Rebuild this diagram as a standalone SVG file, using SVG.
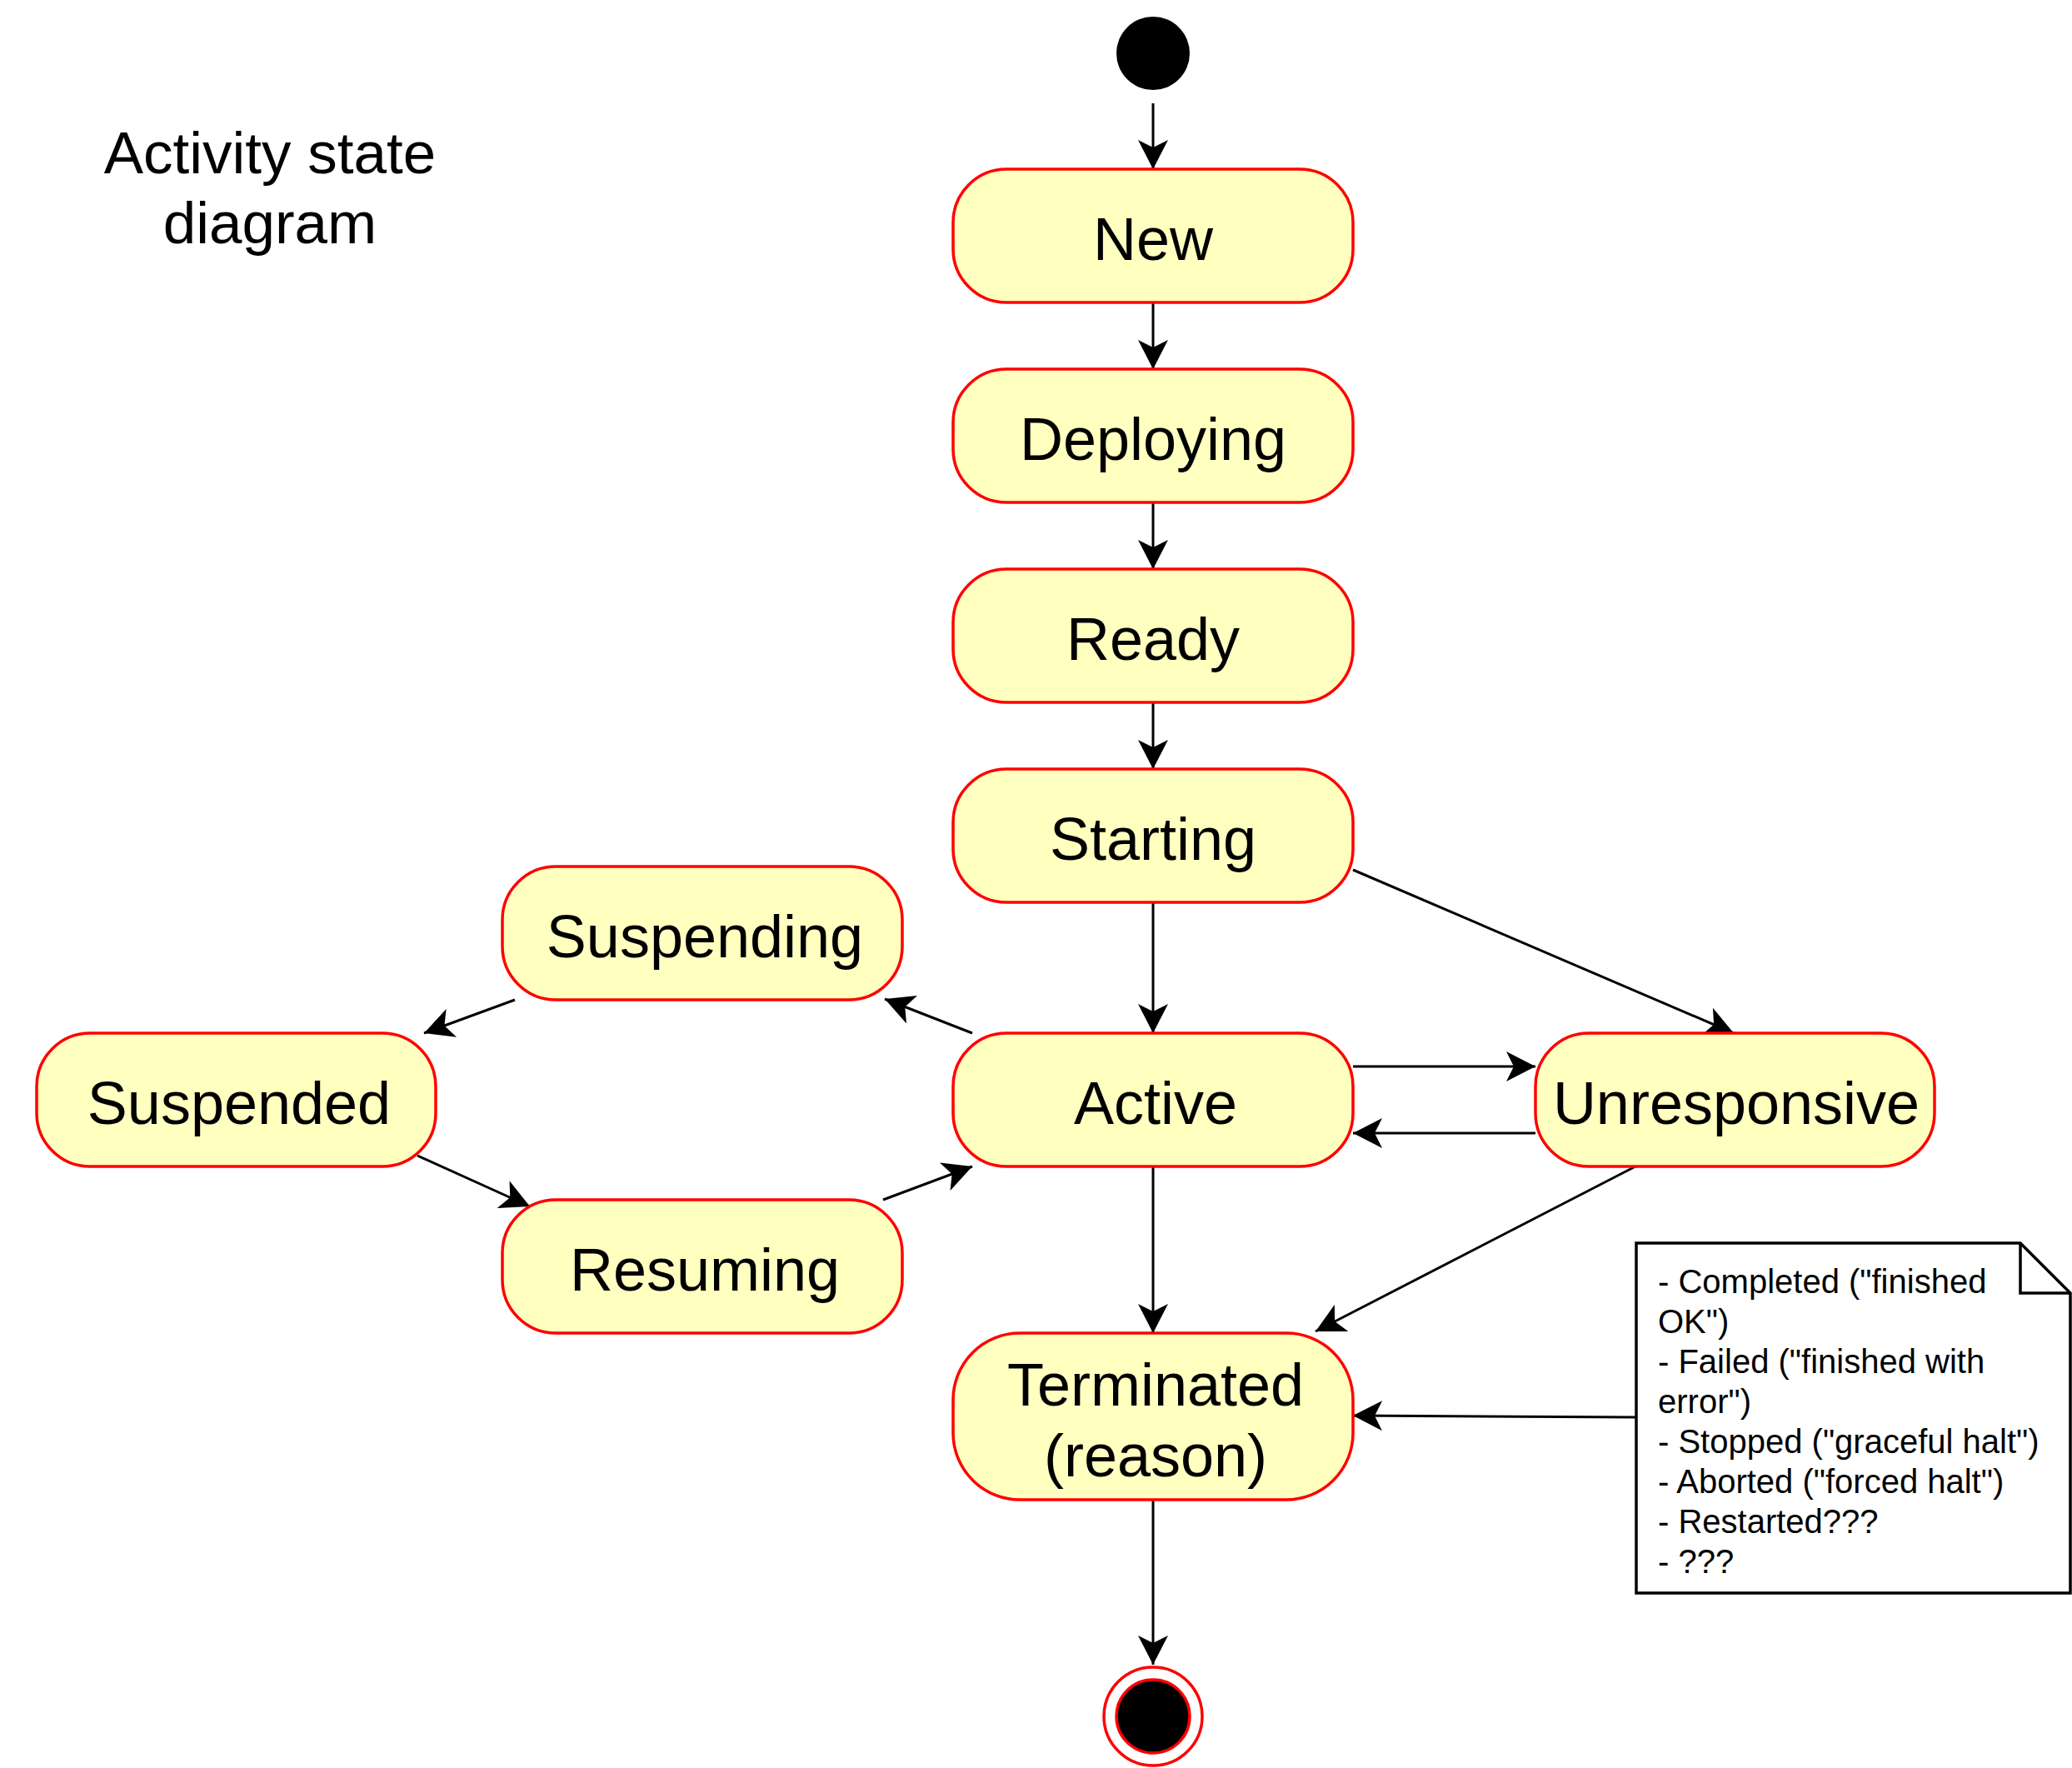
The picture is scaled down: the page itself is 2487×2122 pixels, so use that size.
<svg xmlns="http://www.w3.org/2000/svg" width="2487" height="2122" viewBox="0 0 2487 2122">
<style>
.st{fill:#FFFFC0;stroke:#FF0000;stroke-width:3.5}
.lbl{font-family:"Liberation Sans",Arial,Helvetica,sans-serif;font-size:72px;fill:#000;text-anchor:middle}
.edge{stroke:#000;stroke-width:3;fill:none;marker-end:url(#arr)}
.note{fill:#FFFFFF;stroke:#000;stroke-width:3.5}
.ntxt{font-family:"Liberation Sans",Arial,Helvetica,sans-serif;font-size:40px;fill:#000}
.title{font-family:"Liberation Sans",Arial,Helvetica,sans-serif;font-size:71px;fill:#000;text-anchor:middle}
</style>
<defs>
<marker id="arr" markerUnits="userSpaceOnUse" viewBox="0 0 36 36" markerWidth="36" markerHeight="36" refX="35" refY="18" orient="auto">
<path d="M35,18 L0,0 L9,18 L0,36 Z" fill="#000"/>
</marker>
</defs>
<rect width="2487" height="2122" fill="#FFFFFF"/>
<g id="title"><text class="title" x="324" y="208">Activity state</text><text class="title" x="324" y="292">diagram</text></g>
<g id="edges">
<line class="edge" x1="1384" y1="124" x2="1384" y2="203"/>
<line class="edge" x1="1384" y1="363" x2="1384" y2="443"/>
<line class="edge" x1="1384" y1="603" x2="1384" y2="683"/>
<line class="edge" x1="1384" y1="843" x2="1384" y2="923"/>
<line class="edge" x1="1384" y1="1083" x2="1384" y2="1240"/>
<line class="edge" x1="1624" y1="1044" x2="2081" y2="1240"/>
<line class="edge" x1="1624" y1="1280" x2="1843" y2="1280"/>
<line class="edge" x1="1843" y1="1360" x2="1624" y2="1360"/>
<line class="edge" x1="1384" y1="1400" x2="1384" y2="1600"/>
<line class="edge" x1="1963" y1="1400" x2="1579" y2="1598"/>
<line class="edge" x1="1963" y1="1701" x2="1624" y2="1699"/>
<line class="edge" x1="1167" y1="1240" x2="1062" y2="1199"/>
<line class="edge" x1="618" y1="1200" x2="509" y2="1240"/>
<line class="edge" x1="501" y1="1387" x2="636" y2="1448"/>
<line class="edge" x1="1060" y1="1440" x2="1167" y2="1400"/>
<line class="edge" x1="1384" y1="1800" x2="1384" y2="1998"/>
</g>
<g id="start"><circle cx="1384" cy="64" r="44" fill="#000"/></g>
<g id="new"><rect class="st" x="1144" y="203" width="480" height="160" rx="64" ry="64"/><text class="lbl" x="1384" y="312">New</text></g>
<g id="deploying"><rect class="st" x="1144" y="443" width="480" height="160" rx="64" ry="64"/><text class="lbl" x="1384" y="552">Deploying</text></g>
<g id="ready"><rect class="st" x="1144" y="683" width="480" height="160" rx="64" ry="64"/><text class="lbl" x="1384" y="792">Ready</text></g>
<g id="starting"><rect class="st" x="1144" y="923" width="480" height="160" rx="64" ry="64"/><text class="lbl" x="1384" y="1032">Starting</text></g>
<g id="active"><rect class="st" x="1144" y="1240" width="480" height="160" rx="64" ry="64"/><text class="lbl" x="1387" y="1349">Active</text></g>
<g id="unresponsive"><rect class="st" x="1843" y="1240" width="479" height="160" rx="64" ry="64"/><text class="lbl" x="2084" y="1349">Unresponsive</text></g>
<g id="suspending"><rect class="st" x="603" y="1040" width="480" height="160" rx="64" ry="64"/><text class="lbl" x="846" y="1149">Suspending</text></g>
<g id="suspended"><rect class="st" x="44" y="1240" width="479" height="160" rx="64" ry="64"/><text class="lbl" x="287" y="1349">Suspended</text></g>
<g id="resuming"><rect class="st" x="603" y="1440" width="480" height="160" rx="64" ry="64"/><text class="lbl" x="846" y="1549">Resuming</text></g>
<g id="terminated"><rect class="st" x="1144" y="1600" width="480" height="200" rx="80" ry="80"/><text class="lbl" x="1387" y="1687">Terminated</text><text class="lbl" x="1387" y="1772">(reason)</text></g>
<g id="end"><circle cx="1384" cy="2060" r="59" fill="#FFFFFF" stroke="#FF0000" stroke-width="3.5"/><circle cx="1384" cy="2060" r="44" fill="#000" stroke="#FF0000" stroke-width="3.5"/></g>
<g id="note">
<path class="note" d="M1964,1492 L2425,1492 L2485,1552 L2485,1912 L1964,1912 Z"/>
<path d="M2425,1492 L2425,1552 L2485,1552" fill="none" stroke="#000" stroke-width="3.5"/>
<text class="ntxt" x="1990" y="1552">- Completed ("finished</text>
<text class="ntxt" x="1990" y="1600">OK")</text>
<text class="ntxt" x="1990" y="1648">- Failed ("finished with</text>
<text class="ntxt" x="1990" y="1696">error")</text>
<text class="ntxt" x="1990" y="1744">- Stopped ("graceful halt")</text>
<text class="ntxt" x="1990" y="1792">- Aborted ("forced halt")</text>
<text class="ntxt" x="1990" y="1840">- Restarted???</text>
<text class="ntxt" x="1990" y="1888">- ???</text>
</g>
</svg>
